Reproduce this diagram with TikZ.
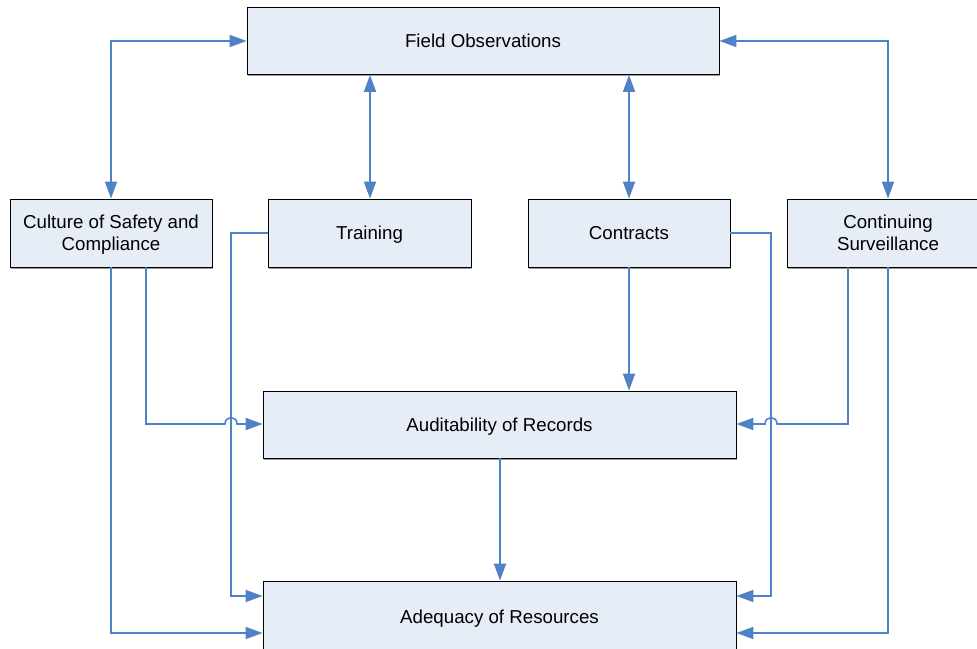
\documentclass[tikz,border=0pt]{standalone}
\usepackage{fontspec}
\setmainfont{Liberation Sans}
\usetikzlibrary{arrows.meta,calc,shadows}
\newcommand\pxu{0.025cm}
\newcommand\firstln{\rule{0pt}{9.7pt}}
\newcommand\lastln[1]{\smash{#1}\rule[-0.7pt]{0pt}{0.7pt}}
\definecolor{boxfill}{HTML}{E7EDF7}
\definecolor{linec}{HTML}{4F81C7}
\tikzset{
  box/.style={draw=black, line width=0.6pt, fill=boxfill, align=center,
    font=\fontsize{13.3}{15.6}\selectfont, inner sep=0pt,
    drop shadow={shadow xshift=0.6pt, shadow yshift=-1.1pt, fill=gray!80, opacity=1}},
  onebox/.style={box, text height=9.7pt, text depth=0pt},
  conn/.style={draw=linec, line width=1.1pt,
    >={Triangle[length=12pt,width=8.5pt]}},
}
\begin{document}
\begin{tikzpicture}[x=0.025cm, y=-0.025cm]
\useasboundingbox (0,0) rectangle (977,649);
\node[onebox, minimum width=472*\pxu, minimum height=67*\pxu] (fo) at (483,41) {Field Observations};
\node[box, minimum width=202*\pxu, minimum height=68*\pxu] (cul) at (111,233) {\firstln Culture of Safety and\\\lastln{Compliance}};
\node[onebox, minimum width=203*\pxu, minimum height=68*\pxu] (tr) at (369.5,233) {Training};
\node[onebox, minimum width=202*\pxu, minimum height=68*\pxu] (con) at (629,233) {Contracts};
\node[box, minimum width=202*\pxu, minimum height=68*\pxu] (cs) at (888,233) {\firstln Continuing\\\lastln{Surveillance}};
\node[onebox, minimum width=473*\pxu, minimum height=67*\pxu] (aud) at (499.5,424.5) {Auditability of Records};
\node[onebox, minimum width=473*\pxu, minimum height=71*\pxu] (adq) at (499.5,616.5) {Adequacy of Resources};

\coordinate (xCa) at (146,0);
\coordinate (xT) at (231,0);
\coordinate (xTr) at (370,0);
\coordinate (xAu) at (500,0);
\coordinate (xK) at (771,0);
\coordinate (xSa) at (848,0);
\coordinate (yA1) at (0,596);
\coordinate (yA2) at (0,633);
\coordinate (yAu) at (0,424);

\draw[conn,<->] (cul.north) |- (fo.west);
\draw[conn,<->] (fo.east) -| (cs.north);
\draw[conn,<->] (fo.south -| xTr) -- (tr.north -| xTr);
\draw[conn,<->] (fo.south -| con.north) -- (con.north);
\draw[conn,->] (con.south) -- (con.south |- aud.north);
\draw[conn,->] (aud.south -| xAu) -- (adq.north -| xAu);

\draw[conn,->] (tr.west) -| (xT |- yA1) -- (adq.west |- yA1);
\draw[conn,->] (con.east) -| (xK |- yA1) -- (adq.east |- yA1);
\draw[conn,->] (cul.south) |- (adq.west |- yA2);
\draw[conn,->] (cs.south) |- (adq.east |- yA2);

\draw[conn,->] (cul.south -| xCa) -- (xCa |- yAu)
  -- ($(xT |- yAu)+(-6,0)$) .. controls +(0,-8.5) and +(0,-8.5) .. ($(xT |- yAu)+(6,0)$)
  -- (aud.west |- yAu);
\draw[conn,->] (cs.south -| xSa) -- (xSa |- yAu)
  -- ($(xK |- yAu)+(6,0)$) .. controls +(0,-8.5) and +(0,-8.5) .. ($(xK |- yAu)+(-6,0)$)
  -- (aud.east |- yAu);
\end{tikzpicture}
\end{document}
